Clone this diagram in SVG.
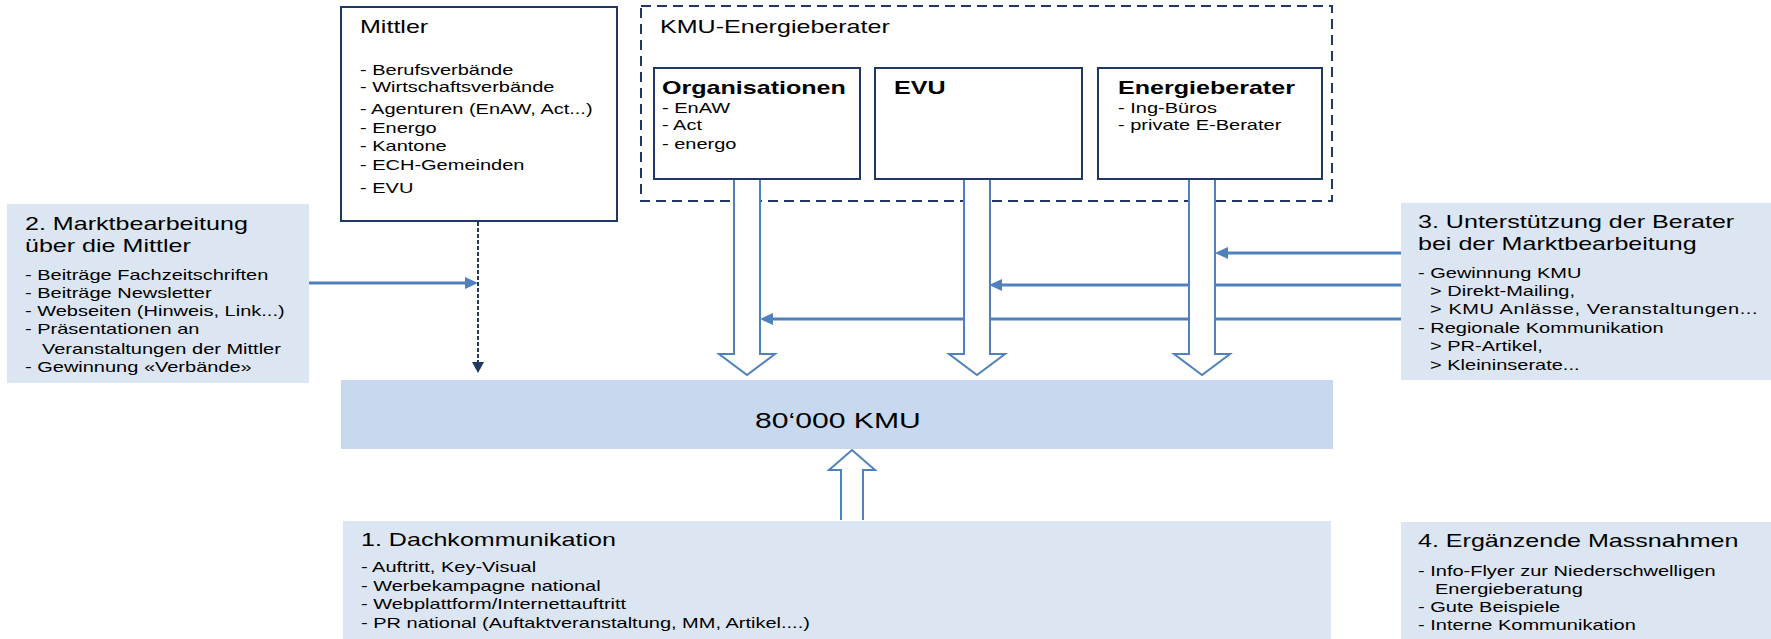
<svg xmlns="http://www.w3.org/2000/svg" width="1771" height="639" viewBox="0 0 1771 639">
<style>
text{font-family:"Liberation Sans",Arial,sans-serif;fill:#000}
.h{font-size:18.3px}
.hb{font-size:18.3px;font-weight:bold}
.t{font-size:14.6px}
.tl{font-size:14.6px}
.big{font-size:22px}
.box{fill:#fff;stroke:#1F3864;stroke-width:2}
.dash{fill:none;stroke:#1F3864;stroke-width:2;stroke-dasharray:10 6}
.light{fill:#DCE6F2}
.mid{fill:#C8D9EF}
.blue{stroke:#4F81BD;stroke-width:3;fill:none;marker-end:url(#ab)}
.hollow{fill:#fff;stroke:#4F81BD;stroke-width:2}
.navy{stroke:#1F3864;stroke-width:2;stroke-dasharray:4 2;fill:none;marker-end:url(#an)}
</style>
<defs>
<marker id="ab" markerUnits="userSpaceOnUse" markerWidth="13" markerHeight="12" viewBox="0 0 13 12" refX="9" refY="6" orient="auto"><path d="M0,0 L13,6 L0,12 z" fill="#4F81BD"/></marker>
<marker id="an" markerUnits="userSpaceOnUse" markerWidth="11" markerHeight="12" viewBox="0 0 11 12" refX="7" refY="6" orient="auto"><path d="M0,0 L11,6 L0,12 z" fill="#1F3864"/></marker>
</defs>

<g id="kmu-energieberater">
<rect class="dash" x="641" y="6" width="691" height="195"/>
<g transform="translate(660,0) scale(1.37,1)"><text class="h" x="0" y="33">KMU-Energieberater</text></g>
</g>

<g id="mittler">
<rect class="box" x="341" y="7" width="276" height="214"/>
<g transform="translate(360,0) scale(1.37,1)">
<text class="h" x="0" y="33">Mittler</text>
<text class="t" x="0" y="75">- Berufsverbände</text>
<text class="t" x="0" y="92">- Wirtschaftsverbände</text>
<text class="t" x="0" y="114">- Agenturen (EnAW, Act...)</text>
<text class="t" x="0" y="133">- Energo</text>
<text class="t" x="0" y="151">- Kantone</text>
<text class="t" x="0" y="170">- ECH-Gemeinden</text>
<text class="t" x="0" y="193">- EVU</text>
</g>
</g>

<g id="organisationen">
<rect class="box" x="654" y="68" width="206" height="111"/>
<g transform="translate(662,0) scale(1.37,1)">
<text class="hb" x="0" y="94">Organisationen</text>
<text class="t" x="0" y="113">- EnAW</text>
<text class="t" x="0" y="130">- Act</text>
<text class="t" x="0" y="149">- energo</text>
</g>
</g>

<g id="evu">
<rect class="box" x="875" y="68" width="207" height="111"/>
<g transform="translate(894,0) scale(1.37,1)"><text class="hb" x="0" y="94">EVU</text></g>
</g>

<g id="energieberater">
<rect class="box" x="1098" y="68" width="224" height="111"/>
<g transform="translate(1118,0) scale(1.37,1)">
<text class="hb" x="0" y="94">Energieberater</text>
<text class="t" x="0" y="113">- Ing-Büros</text>
<text class="t" x="0" y="130">- private E-Berater</text>
</g>
</g>

<g id="marktbearbeitung-mittler">
<rect class="light" x="7" y="204" width="302" height="179"/>
<g transform="translate(25,0) scale(1.37,1)">
<text class="h" x="0" y="230">2. Marktbearbeitung</text>
<text class="h" x="0" y="252">über die Mittler</text>
<text class="tl" x="0" y="280">- Beiträge Fachzeitschriften</text>
<text class="tl" x="0" y="298">- Beiträge Newsletter</text>
<text class="tl" x="0" y="316">- Webseiten (Hinweis, Link...)</text>
<text class="tl" x="0" y="334">- Präsentationen an</text>
<text class="tl" x="12.4" y="354">Veranstaltungen der Mittler</text>
<text class="tl" x="0" y="372">- Gewinnung «Verbände»</text>
</g>
</g>

<g id="unterstuetzung-berater">
<rect class="light" x="1401" y="203" width="370" height="177"/>
<g transform="translate(1418,0) scale(1.37,1)">
<text class="h" x="0" y="228">3. Unterstützung der Berater</text>
<text class="h" x="0" y="250">bei der Marktbearbeitung</text>
<text class="tl" x="0" y="278">- Gewinnung KMU</text>
<text class="tl" x="8.8" y="296">&gt; Direkt-Mailing,</text>
<text class="tl" x="8.8" y="314" textLength="239" lengthAdjust="spacing">&gt; KMU Anlässe, Veranstaltungen...</text>
<text class="tl" x="0" y="333">- Regionale Kommunikation</text>
<text class="tl" x="8.8" y="351">&gt; PR-Artikel,</text>
<text class="tl" x="8.8" y="370">&gt; Kleininserate...</text>
</g>
</g>

<g id="kmu">
<rect class="mid" x="341" y="380" width="992" height="69"/>
<g transform="translate(755,0) scale(1.37,1)"><text class="big" x="0" y="428">80‘000 KMU</text></g>
</g>

<g id="dachkommunikation">
<rect class="light" x="343" y="521" width="988" height="118"/>
<g transform="translate(361,0) scale(1.37,1)">
<text class="h" x="0" y="546">1. Dachkommunikation</text>
<text class="tl" x="0" y="572">- Auftritt, Key-Visual</text>
<text class="tl" x="0" y="591">- Werbekampagne national</text>
<text class="tl" x="0" y="609">- Webplattform/Internettauftritt</text>
<text class="tl" x="0" y="628">- PR national (Auftaktveranstaltung, MM, Artikel....)</text>
</g>
</g>

<g id="ergaenzende-massnahmen">
<rect class="light" x="1401" y="522" width="370" height="117"/>
<g transform="translate(1418,0) scale(1.37,1)">
<text class="h" x="0" y="547">4. Ergänzende Massnahmen</text>
<text class="tl" x="0" y="576">- Info-Flyer zur Niederschwelligen</text>
<text class="tl" x="12.4" y="594">Energieberatung</text>
<text class="tl" x="0" y="612">- Gute Beispiele</text>
<text class="tl" x="0" y="630">- Interne Kommunikation</text>
</g>
</g>

<g id="connectors">
<line class="blue" x1="309" y1="283" x2="474" y2="283"/>
<line class="navy" x1="478" y1="222" x2="478" y2="369"/>
<line class="blue" x1="1401" y1="253" x2="1219" y2="253"/>
<line class="blue" x1="1401" y1="285" x2="993" y2="285"/>
<line class="blue" x1="1401" y1="319" x2="764" y2="319"/>
<path class="hollow" d="M734,180 L734,354 L719,354 L747,375 L775,354 L760,354 L760,180"/>
<path class="hollow" d="M964,180 L964,354 L949,354 L977,375 L1005,354 L990,354 L990,180"/>
<path class="hollow" d="M1189,180 L1189,354 L1174,354 L1202,375 L1230,354 L1215,354 L1215,180"/>
<path class="hollow" d="M841,520 L841,470 L829,470 L852,450 L875,470 L863,470 L863,520"/>
</g>
</svg>
